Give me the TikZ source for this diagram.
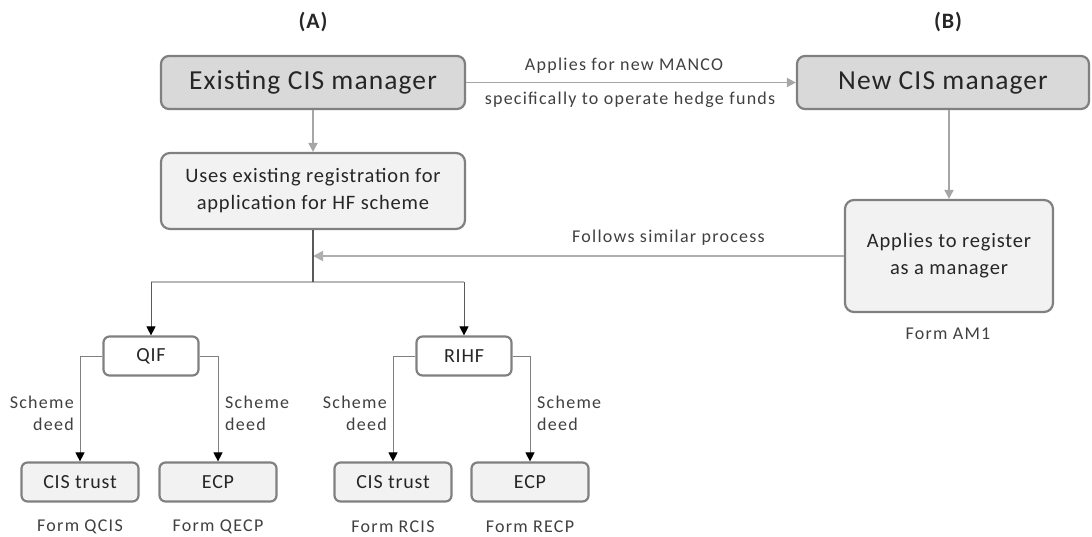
\documentclass[tikz,border=0pt]{standalone}
\usepackage{fontspec}
\setmainfont{Carlito}[LetterSpace=4]
\newfontfamily\lblfont{Carlito}[LetterSpace=7]
\usetikzlibrary{arrows.meta}
\definecolor{bordc}{HTML}{808080}
\definecolor{darkfill}{HTML}{D9D9D9}
\definecolor{lightfill}{HTML}{F2F2F2}
\definecolor{txt}{HTML}{262626}
\definecolor{lbl}{HTML}{404040}
\definecolor{glink}{HTML}{A6A6A6}
\definecolor{dlink}{HTML}{595959}
\tikzset{
  bigbox/.style={draw=bordc, line width=2.2pt, rounded corners=8pt, fill=darkfill, text=txt, font=\fontsize{27.5}{30}\selectfont, inner sep=0pt},
  midbox/.style={draw=bordc, line width=2.2pt, rounded corners=9pt, fill=lightfill, text=txt, font=\fontsize{20.5}{27}\selectfont, align=center, inner sep=0pt},
  fundbox/.style={draw=bordc, line width=2.2pt, rounded corners=6pt, fill=white, text=txt, font=\fontsize{20}{22}\selectfont, inner sep=0pt, minimum width=95pt, minimum height=39pt},
  leafbox/.style={draw=bordc, line width=2.2pt, rounded corners=6pt, fill=lightfill, text=txt, font=\fontsize{20}{22}\selectfont, inner sep=0pt, minimum width=117pt, minimum height=39pt},
  lbltext/.style={text=lbl, font=\lblfont\fontsize{18}{22}\selectfont, inner sep=0pt},
  headtext/.style={text=txt, font=\bfseries\fontsize{22}{24}\selectfont, inner sep=0pt},
  glinkst/.style={draw=glink, line width=1.8pt, -{Triangle[length=9pt, width=9pt]}},
  backst/.style={draw=glink!90, line width=1.6pt, -{Triangle[length=10pt, width=10pt]}},
  darkst/.style={draw=dlink, line width=1.3pt},
  sidest/.style={draw=bordc, line width=1pt, -{Triangle[length=9pt, width=9pt, fill=black, color=black]}},
  downst/.style={draw=dlink, line width=1pt, -{Triangle[length=9pt, width=9pt, fill=black, color=black]}},
}
\begin{document}
\begin{tikzpicture}[x=1pt, y=-1pt]
\useasboundingbox (0,0) rectangle (1092,536);
% headings
\node[headtext] (hA) at (313,22) {(A)};
\node[headtext] (hB) at (948,22) {(B)};
% main boxes
\node[bigbox, minimum width=304pt, minimum height=53pt] (ecm) at (313,82.5) {Existing CIS manager};
\node[bigbox, minimum width=292pt, minimum height=53pt] (ncm) at (943,82.5) {New CIS manager};
\node[midbox, minimum width=304pt, minimum height=76pt] (uses) at (313,191) {Uses existing registration for\\application for HF scheme};
\node[midbox, minimum width=208pt, minimum height=112pt] (apply) at (949,256) {Applies to register\\as a manager};
\node[lbltext] (fam1) at (948,334) {Form AM1};
% funds
\node[fundbox] (qif) at (151,356) {QIF};
\node[fundbox] (rihf) at (464,356) {RIHF};
% leaves
\node[leafbox] (ct1) at (80,482) {CIS trust};
\node[leafbox] (ecp1) at (218,482) {ECP};
\node[leafbox] (ct2) at (393,482) {CIS trust};
\node[leafbox] (ecp2) at (530,482) {ECP};
\node[lbltext] (f1) at (80,527) {Form QCIS};
\node[lbltext] (f2) at (218,527) {Form QECP};
\node[lbltext] (f3) at (393,527) {Form RCIS};
\node[lbltext] (f4) at (530,527) {Form RECP};
% coordinates
\coordinate (br) at (313,282);
\coordinate (brL) at (151,282);
\coordinate (brR) at (464,282);
\coordinate (back) at (313,256);
% connectors
\draw[glinkst] (ecm) -- (uses);
\draw[glinkst] (ecm.east) -- (ncm.west);
\node[lbltext] (t1) at (624,66) {Applies for new MANCO};
\node[lbltext] (t2) at (630,100) {specifically to operate hedge funds};
\draw[glinkst] (ncm.south -| apply.north) -- (apply.north);
\draw[backst] (apply.west |- back) -- (back);
\node[lbltext, anchor=west] (t3) at (572,238) {Follows similar process};
\draw[draw=glink!80, line width=1.2pt] (brL) -- (brR);
\draw[darkst] (uses.south) -- (br);
\draw[downst] (brL) -- (qif.north);
\draw[downst] (brR) -- (rihf.north);
\draw[sidest] (qif.west) -| (ct1.north);
\draw[sidest] (qif.east) -| (ecp1.north);
\draw[sidest] (rihf.west) -| (ct2.north);
\draw[sidest] (rihf.east) -| (ecp2.north);
% scheme deed labels
\node[lbltext, align=right, anchor=east] (s1) at (74,413) {Scheme\\deed};
\node[lbltext, align=left, anchor=west] (s2) at (225,413) {Scheme\\deed};
\node[lbltext, align=right, anchor=east] (s3) at (387,413) {Scheme\\deed};
\node[lbltext, align=left, anchor=west] (s4) at (537,413) {Scheme\\deed};
\end{tikzpicture}
\end{document}
